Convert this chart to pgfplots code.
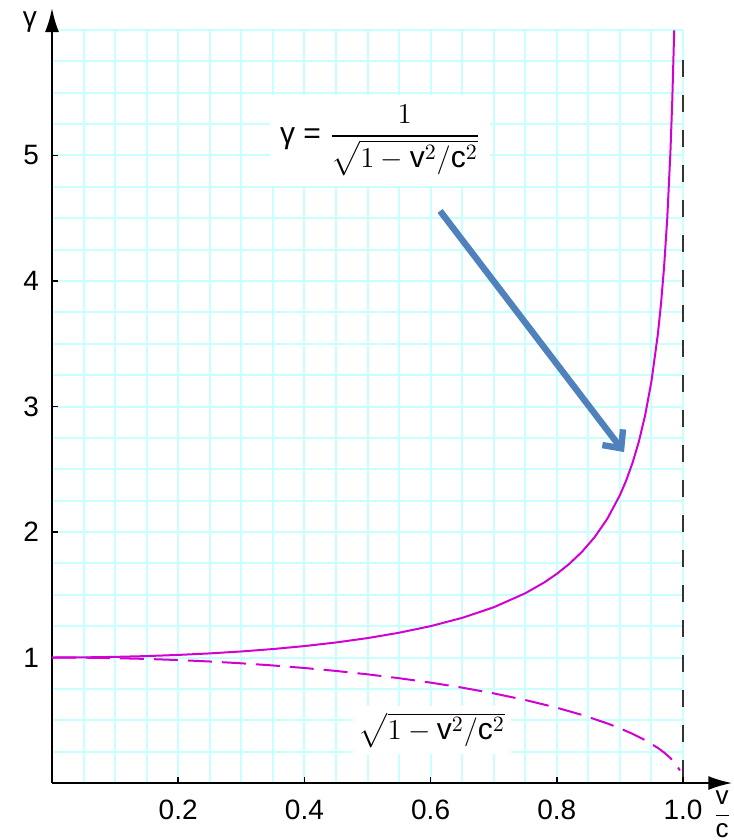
\documentclass[border=0pt]{standalone}
\usepackage{amsmath}
\usepackage{fontspec}
\setmainfont{Liberation Sans}
\usepackage{pgfplots}
\pgfplotsset{compat=1.18}
\usetikzlibrary{arrows.meta}
\definecolor{gridcyan}{RGB}{200,255,255}
\definecolor{curvemag}{RGB}{210,0,210}
\definecolor{arrowblue}{RGB}{79,129,189}

\begin{document}
\begin{tikzpicture}
  \begin{axis}[
      scale only axis, width=315.5pt, height=376.5pt,
      xmin=0, xmax=1, ymin=0, ymax=6,
      axis lines=left,
      axis line style={-, line width=1pt},
      xtick={0.2,0.4,0.6,0.8,1.0},
      xticklabels={0.2,0.4,0.6,0.8,1.0},
      ytick={1,2,3,4,5},
      yticklabels={1,2,3,4,5},
      minor xtick={0,0.05,...,1.0},
      minor ytick={0,0.25,...,6},
      grid=both,
      grid style={gridcyan, line width=1pt},
      major grid style={gridcyan, line width=1pt},
      tick align=inside,
      major tick length=3pt, minor tick length=0pt,
      tick style={black, line width=0.8pt},
      ticklabel style={font=\fontsize{14}{16}\selectfont},
      xticklabel style={yshift=-5pt},
      yticklabel style={xshift=-3pt},
      clip=false,
    ]

    % gamma = 1/sqrt(1 - v^2/c^2)
    \addplot[curvemag, line width=1pt] coordinates {
      (0,1) (0.05,1.00125) (0.1,1.00504) (0.15,1.01144) (0.2,1.02062)
      (0.25,1.03280) (0.3,1.04828) (0.35,1.06752) (0.4,1.09109)
      (0.45,1.11979) (0.5,1.15470) (0.55,1.19737) (0.6,1.25)
      (0.65,1.31590) (0.7,1.40028) (0.75,1.51186) (0.78,1.59801)
      (0.8,1.66667) (0.82,1.74714) (0.84,1.84302) (0.86,1.95965)
      (0.88,2.10538) (0.9,2.29416) (0.91,2.41191) (0.92,2.55155)
      (0.93,2.72065) (0.94,2.93105) (0.95,3.20256) (0.96,3.57143)
      (0.965,3.81315) (0.97,4.11345) (0.975,4.50035) (0.98,5.02519)
      (0.983,5.44640) (0.986,5.99717)};

    % sqrt(1 - v^2/c^2)
    \addplot[curvemag, line width=1pt, dash pattern=on 12pt off 5pt] coordinates {
      (0,1) (0.05,0.99875) (0.1,0.99499) (0.15,0.98869) (0.2,0.97980)
      (0.25,0.96825) (0.3,0.95394) (0.35,0.93675) (0.4,0.91652)
      (0.45,0.89303) (0.5,0.86603) (0.55,0.83516) (0.6,0.8)
      (0.65,0.75993) (0.7,0.71414) (0.75,0.66144) (0.8,0.6)
      (0.84,0.54259) (0.88,0.47497) (0.9,0.43589) (0.92,0.39192)
      (0.94,0.34117) (0.96,0.28) (0.97,0.24310) (0.98,0.19900)
      (0.99,0.14107) (0.995,0.09987)};

    % asymptote v = c
    \addplot[black!80, line width=1.2pt, dash pattern=on 8.5pt off 9pt]
      coordinates {(1,0.05) (1,5.9)};

    % axis arrow heads
    \draw[line width=1pt, -{Latex[length=12pt,width=7pt]}]
      (axis cs:1,0) -- (axis cs:1.078,0);
    \draw[line width=1pt, -{Latex[length=12pt,width=7pt]}]
      (axis cs:0,6) -- (axis cs:0,6.175);

    % labels
    \node[font=\fontsize{14}{16}\selectfont] at (axis cs:-0.035,6.06) {γ};
    \node[font=\fontsize{13}{15}\selectfont, inner sep=0pt] at (axis cs:1.062,-0.25)
      {$\dfrac{\mathrm{v}}{\mathrm{c}}$};
    \node[fill=white, inner sep=5pt, font=\fontsize{15}{18}\selectfont]
      at (axis cs:0.52,5.12)
      {\text{γ}\;=\;$\dfrac{1}{\sqrt{1-\mathrm{v}^2/\mathrm{c}^2}}$};
    \node[fill=white, inner sep=3pt, font=\fontsize{15}{18}\selectfont]
      at (axis cs:0.602,0.42) {$\sqrt{1-\mathrm{v}^2/\mathrm{c}^2}$};

    % pointer
    \draw[arrowblue, line width=3.2pt, -{Straight Barb[length=7pt,width=13pt]}]
      (axis cs:0.615,4.558) -- (axis cs:0.9065,2.637);

    \coordinate (bbsw) at (axis cs:-0.0824,-0.454);
    \coordinate (bbne) at (axis cs:1.0792,6.239);
  \end{axis}
  \pgfresetboundingbox
  \path (bbsw) rectangle (bbne);
\end{tikzpicture}
\end{document}
